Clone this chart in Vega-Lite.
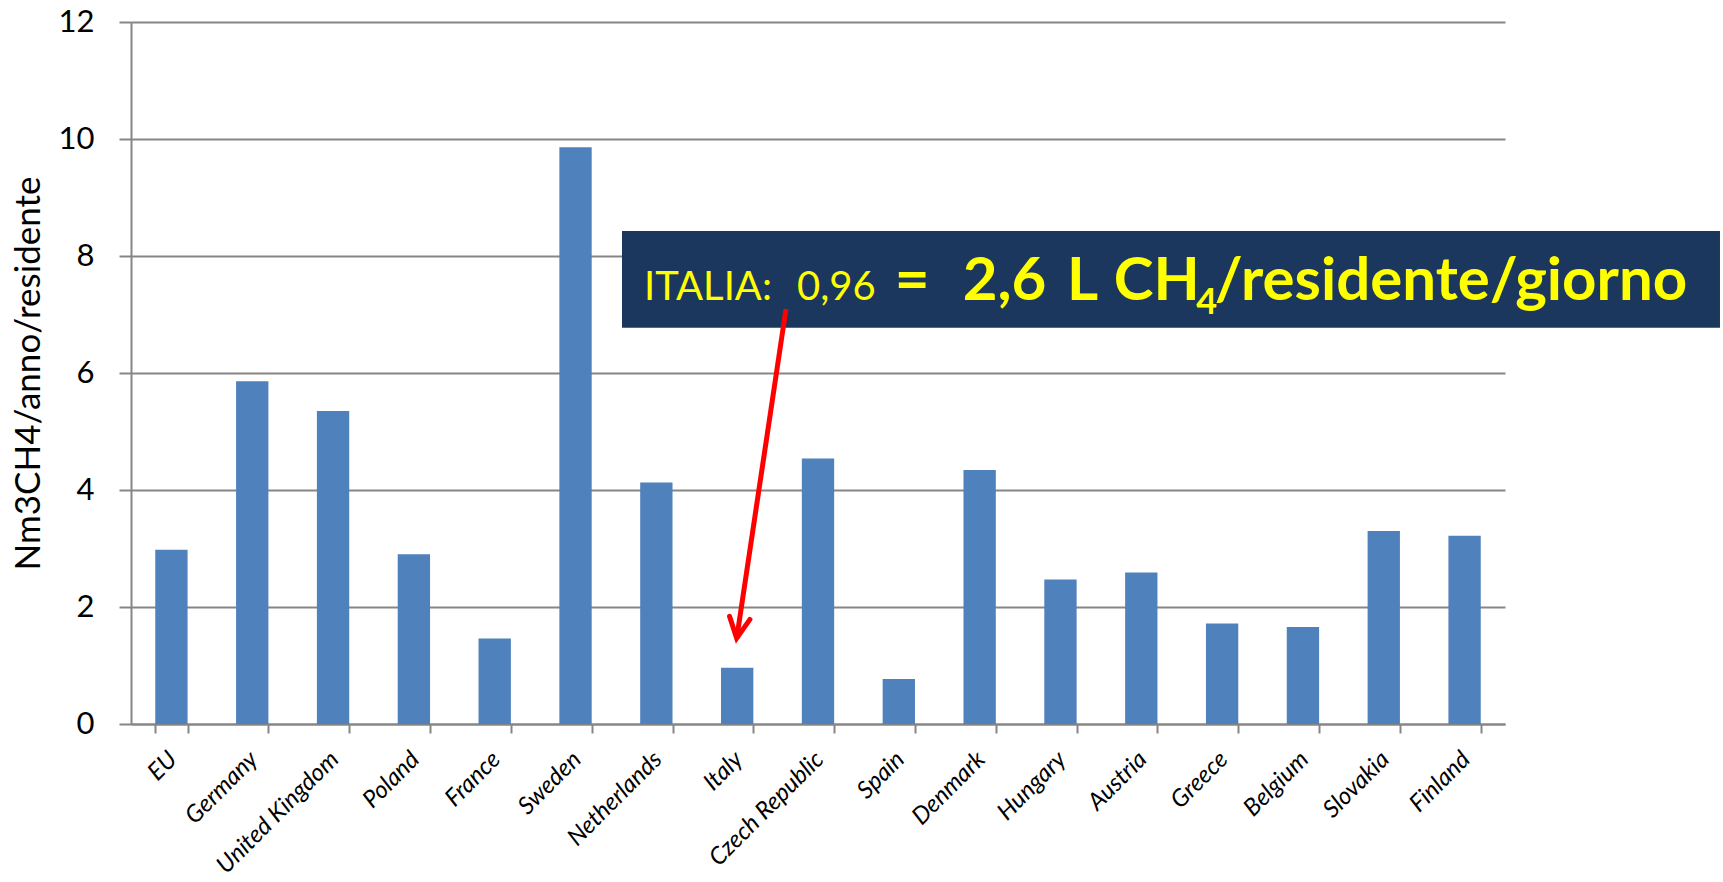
{
  "$schema": "https://vega.github.io/schema/vega-lite/v6.json",
  "width": 1374,
  "height": 702,
  "autosize": {"type": "none"},
  "padding": {"left": 131, "top": 22, "right": 218, "bottom": 158},
  "background": "white",
  "config": {"view": {"stroke": null}},
  "datasets": {
    "methane": [
      {"country": "EU", "value": 2.98},
      {"country": "Germany", "value": 5.86},
      {"country": "United Kingdom", "value": 5.35},
      {"country": "Poland", "value": 2.90},
      {"country": "France", "value": 1.46},
      {"country": "Sweden", "value": 9.86},
      {"country": "Netherlands", "value": 4.13},
      {"country": "Italy", "value": 0.96},
      {"country": "Czech Republic", "value": 4.54},
      {"country": "Spain", "value": 0.77},
      {"country": "Denmark", "value": 4.34},
      {"country": "Hungary", "value": 2.47},
      {"country": "Austria", "value": 2.59},
      {"country": "Greece", "value": 1.72},
      {"country": "Belgium", "value": 1.66},
      {"country": "Slovakia", "value": 3.30},
      {"country": "Finland", "value": 3.22}
    ],
    "noteBox": [{"u1": 6.075, "u2": 19.66, "v1": 6.774, "v2": 8.427}],
    "noteArrow": [{"u": 8.104, "v": 7.094}, {"u": 7.494, "v": 1.465}],
    "noteTip": [{"u": 7.494, "v": 1.465}],
    "noteRegular": [
      {"u": 6.347, "v": 7.248, "label": "ITALIA:"},
      {"u": 8.240, "v": 7.248, "label": "0,96"}
    ],
    "noteBold": [
      {"u": 9.450, "v": 7.248, "label": "="},
      {"u": 10.290, "v": 7.248, "label": "2,6"},
      {"u": 11.580, "v": 7.248, "label": "L"},
      {"u": 12.160, "v": 7.248, "label": "CH"},
      {"u": 13.410, "v": 7.248, "label": "/residente/giorno"}
    ],
    "noteSub": [{"u": 13.180, "v": 7.009, "label": "4"}]
  },
  "layer": [
    {
      "data": {"name": "methane"},
      "mark": {"type": "bar", "color": "#4F81BD"},
      "encoding": {
        "x": {
          "field": "country",
          "type": "nominal",
          "sort": null,
          "scale": {"paddingInner": 0.6, "paddingOuter": 0.3},
          "axis": {
            "title": null,
            "labelAngle": -45,
            "labelAlign": "right",
            "labelBaseline": "top",
            "labelFont": "Lato",
            "labelFontStyle": "italic",
            "labelFontSize": 24,
            "labelColor": "black",
            "labelPadding": 14,
            "labelOffset": -7,
            "labelOverlap": false,
            "labelBound": false,
            "tickBand": "extent",
            "tickSize": 9,
            "tickColor": "#868686",
            "tickWidth": 2,
            "domainColor": "#868686",
            "domainWidth": 2,
            "grid": false
          }
        },
        "y": {
          "field": "value",
          "type": "quantitative",
          "scale": {"domain": [0, 12], "nice": false},
          "axis": {
            "title": "Nm3CH4/anno/residente",
            "values": [0, 2, 4, 6, 8, 10, 12],
            "format": "d",
            "grid": true,
            "gridColor": "#868686",
            "gridWidth": 2,
            "tickSize": 12,
            "tickColor": "#868686",
            "tickWidth": 2,
            "domainColor": "#868686",
            "domainWidth": 2,
            "labelFont": "Lato",
            "labelFontSize": 31,
            "labelColor": "black",
            "labelPadding": 25,
            "titleFont": "Lato",
            "titleFontSize": 35,
            "titleFontWeight": "normal",
            "titleColor": "black",
            "titlePadding": 12
          }
        }
      }
    },
    {
      "data": {"name": "noteBox"},
      "mark": {"type": "rect", "color": "#1c375e"},
      "encoding": {
        "x": {"field": "u1", "type": "quantitative", "scale": {"domain": [0, 17], "nice": false, "zero": false}, "axis": null},
        "x2": {"field": "u2"},
        "y": {"field": "v1", "type": "quantitative", "scale": {"domain": [0, 12], "nice": false}},
        "y2": {"field": "v2"}
      }
    },
    {
      "data": {"name": "noteArrow"},
      "mark": {"type": "line", "color": "#ff0000", "strokeWidth": 5},
      "encoding": {
        "x": {"field": "u", "type": "quantitative", "scale": {"domain": [0, 17], "nice": false, "zero": false}, "axis": null},
        "y": {"field": "v", "type": "quantitative", "scale": {"domain": [0, 12], "nice": false}}
      }
    },
    {
      "data": {"name": "noteTip"},
      "mark": {
        "type": "point",
        "shape": "M-0.5,-1L0,0L0.5,-1",
        "filled": false,
        "stroke": "#ff0000",
        "strokeWidth": 5,
        "opacity": 1,
        "size": 1700,
        "angle": 8.5,
        "strokeCap": "round"
      },
      "encoding": {
        "x": {"field": "u", "type": "quantitative", "scale": {"domain": [0, 17], "nice": false, "zero": false}, "axis": null},
        "y": {"field": "v", "type": "quantitative", "scale": {"domain": [0, 12], "nice": false}}
      }
    },
    {
      "data": {"name": "noteRegular"},
      "mark": {"type": "text", "align": "left", "baseline": "alphabetic", "font": "Lato", "fontSize": 40, "color": "#ffff00"},
      "encoding": {
        "x": {"field": "u", "type": "quantitative", "scale": {"domain": [0, 17], "nice": false, "zero": false}, "axis": null},
        "y": {"field": "v", "type": "quantitative", "scale": {"domain": [0, 12], "nice": false}},
        "text": {"field": "label"}
      }
    },
    {
      "data": {"name": "noteBold"},
      "mark": {"type": "text", "align": "left", "baseline": "alphabetic", "font": "Lato", "fontSize": 60, "fontWeight": "bold", "color": "#ffff00"},
      "encoding": {
        "x": {"field": "u", "type": "quantitative", "scale": {"domain": [0, 17], "nice": false, "zero": false}, "axis": null},
        "y": {"field": "v", "type": "quantitative", "scale": {"domain": [0, 12], "nice": false}},
        "text": {"field": "label"}
      }
    },
    {
      "data": {"name": "noteSub"},
      "mark": {"type": "text", "align": "left", "baseline": "alphabetic", "font": "Lato", "fontSize": 36, "fontWeight": "bold", "color": "#ffff00"},
      "encoding": {
        "x": {"field": "u", "type": "quantitative", "scale": {"domain": [0, 17], "nice": false, "zero": false}, "axis": null},
        "y": {"field": "v", "type": "quantitative", "scale": {"domain": [0, 12], "nice": false}},
        "text": {"field": "label"}
      }
    }
  ],
  "resolve": {"scale": {"x": "independent"}, "axis": {"x": "independent"}}
}
